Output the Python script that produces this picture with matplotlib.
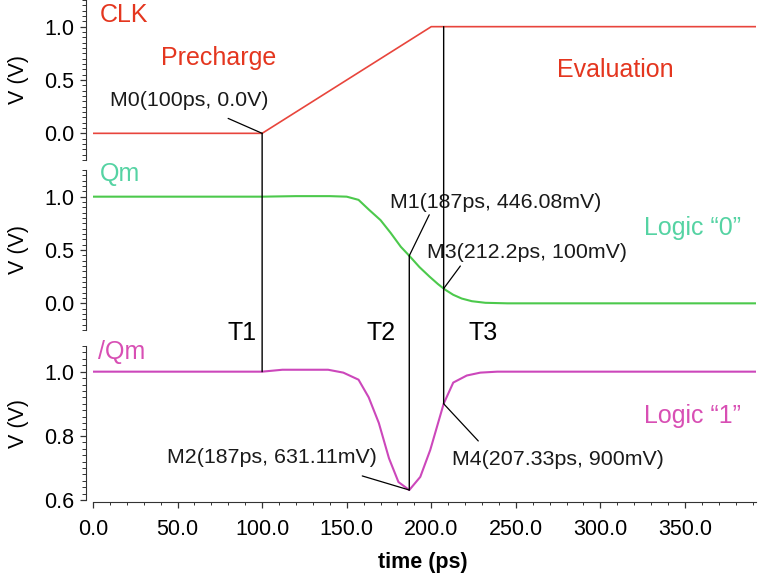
import numpy as np
import matplotlib
matplotlib.use("Agg")
import matplotlib.pyplot as plt
from matplotlib.patches import ConnectionPatch
from matplotlib.ticker import MultipleLocator, FormatStrFormatter

plt.rcParams['font.family'] = ['Liberation Sans', 'DejaVu Sans']

# waveforms (time in ps, voltage in V)
clk_t = [0, 100, 200, 392]
clk_v = [0.0, 0.0, 1.0, 1.0]

qm_t = [0, 100, 120, 140, 150, 157, 163, 170, 176, 182, 187, 193, 199, 204, 208,
        213, 218, 224, 232, 245, 392]
qm_v = [1.0, 1.0, 1.005, 1.005, 1.0, 0.97, 0.88, 0.78, 0.66, 0.53, 0.446, 0.34,
        0.25, 0.18, 0.13, 0.08, 0.045, 0.02, 0.005, 0.0, 0.0]

nqm_t = [0, 100, 112, 139, 148, 157, 163, 169, 175, 180.6, 187, 193.5, 199.4,
         207.33, 213, 221, 229, 239, 392]
nqm_v = [1.0, 1.0, 1.006, 1.006, 0.997, 0.975, 0.92, 0.84, 0.73, 0.656, 0.631,
         0.672, 0.756, 0.9, 0.966, 0.988, 0.997, 1.0, 1.0]

# markers
m_names = ["M0", "M1", "M2", "M3", "M4"]
m_t = [100, 187, 187, 212.2, 207.33]
m_v = [0.0, 0.44608, 0.63111, 0.1, 0.9]
m_labels = ["M0(100ps, 0.0V)", "M1(187ps, 446.08mV)", "M2(187ps, 631.11mV)",
            "M3(212.2ps, 100mV)", "M4(207.33ps, 900mV)"]

xticks = [0, 50, 100, 150, 200, 250, 300, 350]

RED_LINE = '#e8453c'
RED_TXT = '#e4361f'
GRN_LINE = '#4cc94c'
GRN_TXT = '#55d3a3'
MAG_LINE = '#cc47bb'
MAG_TXT = '#d84fb4'

fig = plt.figure(figsize=(7.69, 5.8), dpi=100)
L, W = 93 / 769, 663 / 769
ax1 = fig.add_axes([L, 420 / 580, W, 160 / 580])
ax2 = fig.add_axes([L, 250 / 580, W, 160 / 580])
ax3 = fig.add_axes([L, 80 / 580, W, 154 / 580])

for ax in (ax1, ax2, ax3):
    ax.set_xlim(0, 392)
    for s in ('top', 'right'):
        ax.spines[s].set_visible(False)
    ax.spines['left'].set_position(('outward', 5))
    ax.spines['left'].set_color('#333333')
    ax.tick_params(axis='y', which='major', length=4.5, width=0.9, labelsize=15.5,
                   color='#333333', pad=4)
    ax.tick_params(axis='y', which='minor', length=2.8, width=0.7, color='#333333')
    ax.set_ylabel("V (V)", fontsize=15.5, va='center')
    ax.yaxis.set_label_coords(-0.113, 0.5)
    ax.yaxis.set_major_formatter(FormatStrFormatter('%.1f'))

for ax in (ax1, ax2):
    ax.spines['bottom'].set_visible(False)
    ax.tick_params(axis='x', which='both', bottom=False, labelbottom=False)
    ax.set_ylim(-0.25, 1.25)
    ax.yaxis.set_major_locator(MultipleLocator(0.5))
    ax.yaxis.set_minor_locator(MultipleLocator(0.05))

ax3.set_ylim(0.6, 1.08)
ax3.yaxis.set_major_locator(MultipleLocator(0.2))
ax3.yaxis.set_minor_locator(MultipleLocator(0.02))
ax3.spines['bottom'].set_position(('outward', 1.5))
ax3.spines['bottom'].set_color('#333333')
ax3.set_xticks(xticks)
ax3.xaxis.set_minor_locator(MultipleLocator(10))
ax3.xaxis.set_major_formatter(FormatStrFormatter('%.1f'))
ax3.tick_params(axis='x', which='major', length=4.5, width=0.9, labelsize=15.5,
                color='#333333', pad=8)
ax3.tick_params(axis='x', which='minor', length=2.5, width=0.7, color='#333333')
ax3.set_xlabel("time (ps)", fontsize=15.5, fontweight='bold', va='center')
ax3.xaxis.set_label_coords(0.498, -0.403)

ax1.plot(clk_t, clk_v, color=RED_LINE, lw=1.2)
ax2.plot(qm_t, qm_v, color=GRN_LINE, lw=1.5)
ax3.plot(nqm_t, nqm_v, color=MAG_LINE, lw=1.5)

# signal / phase labels
BIG = 18
ax1.text(4, 1.113, "CLK", color=RED_TXT, fontsize=BIG, ha='left', va='center')
ax1.text(74, 0.708, "Precharge", color=RED_TXT, fontsize=BIG, ha='center', va='center')
ax1.text(309, 0.594, "Evaluation", color=RED_TXT, fontsize=BIG, ha='center', va='center')
ax2.text(4, 1.208, "Qm", color=GRN_TXT, fontsize=BIG, ha='left', va='center', clip_on=False)
ax2.text(354.4, 0.708, "Logic \u201c0\u201d", color=GRN_TXT, fontsize=BIG,
         ha='center', va='center')
ax3.text(3, 1.0625, "/Qm", color=MAG_TXT, fontsize=BIG, ha='left', va='center')
ax3.text(354.7, 0.8625, "Logic \u201c1\u201d", color=MAG_TXT, fontsize=BIG,
         ha='center', va='center')
for name, x in zip(["T1", "T2", "T3"], [88.2, 170.4, 230.8]):
    ax3.text(x, 1.122, name, fontsize=BIG, ha='center', va='center', clip_on=False)

# vertical cursor lines across panels
cursors = [
    (ax1, 100, np.interp(100, clk_t, clk_v), ax3, np.interp(100, nqm_t, nqm_v)),
    (ax2, m_t[1], m_v[1], ax3, m_v[2]),
    (ax1, m_t[4], np.interp(m_t[4], clk_t, clk_v), ax3, m_v[4]),
]
for axa, x, ya, axb, yb in cursors:
    con = ConnectionPatch(xyA=(x, ya), coordsA='data', axesA=axa,
                          xyB=(x, yb), coordsB='data', axesB=axb,
                          color='black', lw=1.0)
    fig.add_artist(con)

# marker annotations: (axis, tip, leader start, text centre)
m3_tip = (m_t[4], np.interp(m_t[4], qm_t, qm_v))
annots = [
    (ax1, (m_t[0], m_v[0]), (79.9, 0.14), (57.1, 0.311)),
    (ax2, (m_t[1], m_v[1]), (198.8, 0.83), (237.9, 0.943)),
    (ax3, (m_t[2], m_v[2]), (159.2, 0.675), (105.6, 0.731)),
    (ax2, m3_tip, (217.2, 0.35), (256.5, 0.472)),
    (ax3, (m_t[4], m_v[4]), (227.8, 0.784), (274.9, 0.725)),
]
for (ax, tip, start, tpos), lab in zip(annots, m_labels):
    ax.annotate("", xy=tip, xytext=start,
                arrowprops=dict(arrowstyle='-', color='black', lw=0.9,
                                shrinkA=0, shrinkB=0))
    ax.text(tpos[0], tpos[1], lab, fontsize=15.4, ha='center', va='center',
            color='#1a1a1a')

fig.savefig("out.png", dpi=100)
